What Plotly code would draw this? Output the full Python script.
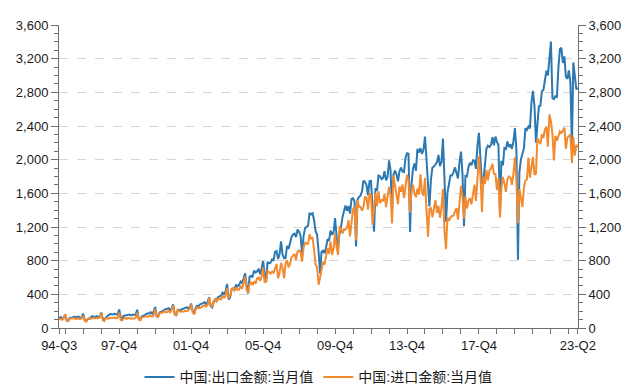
import pandas as pd
import plotly.graph_objects as go

# Monthly values, 亿美元, from 1994-08 to 2023-06
start_month = "1994-08-01"

export_values = [
    113, 129, 110, 123, 161,                                              # 1994 Aug-Dec
    88, 85, 120, 118, 127, 135, 128, 130, 135, 120, 130, 170,             # 1995
    95, 80, 105, 110, 125, 140, 135, 130, 140, 130, 138, 183,             # 1996
    113, 90, 120, 145, 155, 165, 165, 160, 170, 160, 165, 220,            # 1997
    130, 100, 145, 150, 150, 160, 160, 150, 160, 155, 160, 217,           # 1998
    115, 90, 135, 145, 150, 165, 175, 170, 189, 170, 195, 250,            # 1999
    145, 140, 185, 195, 200, 215, 222, 230, 235, 210, 235, 280,           # 2000
    170, 150, 205, 215, 215, 225, 230, 235, 246, 235, 245, 290,           # 2001
    200, 170, 235, 265, 260, 280, 285, 295, 305, 285, 310, 366,           # 2002
    260, 245, 305, 330, 335, 365, 375, 385, 420, 405, 435, 522,           # 2003
    340, 365, 455, 465, 460, 515, 495, 510, 553, 535, 590, 650,           # 2004
    510, 410, 610, 620, 610, 680, 660, 672, 703, 640, 710, 795,           # 2005
    650, 545, 785, 770, 775, 815, 800, 905, 915, 820, 880, 1029,          # 2006
    870, 830, 830, 975, 940, 1030, 1080, 1110, 1120, 1080, 1170, 1145,    # 2007
    1097, 873, 1089, 1187, 1205, 1215, 1367, 1349, 1364, 1283, 1150, 1111,  # 2008
    905, 649, 903, 919, 888, 954, 1054, 1037, 1159, 1108, 1137, 1307,     # 2009
    1095, 945, 1121, 1199, 1317, 1374, 1455, 1392, 1450, 1360, 1534, 1541,  # 2010
    1507, 968, 1522, 1557, 1572, 1619, 1752, 1733, 1697, 1575, 1745, 1747,  # 2011
    1499, 1144, 1659, 1633, 1812, 1802, 1769, 1780, 1863, 1755, 1794, 1992,  # 2012
    1873, 1393, 1821, 1871, 1827, 1743, 1860, 1906, 1857, 1854, 2022, 2077,  # 2013
    2071, 1141, 1701, 1886, 1955, 1868, 2128, 2085, 2137, 2069, 2117, 2275,  # 2014
    1999, 1691, 1445, 1763, 1907, 1919, 1951, 1969, 2056, 1924, 1972, 2252,  # 2015
    1774, 1262, 1605, 1727, 1812, 1813, 1848, 1908, 1844, 1776, 1966, 2095,  # 2016
    1827, 1208, 1806, 1802, 1910, 1964, 1934, 1992, 1985, 1890, 2174, 2318,  # 2017
    2003, 1715, 1740, 1999, 2127, 2167, 2150, 2173, 2267, 2171, 2274, 2212,  # 2018
    2175, 1353, 1987, 1931, 2138, 2128, 2215, 2149, 2184, 2128, 2217, 2375,  # 2019
    2112, 812, 1851, 2004, 2067, 2135, 2375, 2353, 2394, 2372, 2680, 2818,  # 2020
    2640, 2200, 2412, 2637, 2639, 2814, 2825, 2943, 3057, 3001, 3255, 3404,  # 2021
    2730, 2720, 2761, 2736, 3082, 3313, 3329, 3149, 3227, 2983, 2960, 3061,  # 2022
    2914, 2150, 3155, 2954, 2835, 2853,                                   # 2023 Jan-Jun
]

import_values = [
    104, 107, 98, 115, 164,                                               # 1994 Aug-Dec
    88, 82, 110, 112, 115, 118, 108, 110, 112, 105, 115, 145,             # 1995
    85, 80, 110, 115, 110, 115, 115, 115, 120, 115, 125, 183,             # 1996
    95, 85, 110, 120, 110, 120, 115, 120, 125, 115, 125, 184,             # 1997
    95, 90, 115, 120, 110, 120, 115, 110, 115, 110, 120, 182,             # 1998
    100, 95, 125, 130, 130, 140, 135, 140, 145, 135, 155, 227,            # 1999
    135, 130, 175, 180, 180, 201, 185, 190, 205, 185, 215, 270,           # 2000
    160, 150, 216, 200, 195, 200, 195, 205, 200, 210, 225, 280,           # 2001
    190, 160, 220, 245, 235, 240, 250, 255, 270, 255, 275, 357,           # 2002
    270, 245, 320, 345, 315, 345, 350, 340, 385, 360, 380, 473,           # 2003
    355, 385, 465, 475, 445, 475, 455, 455, 502, 465, 525, 610,           # 2004
    450, 420, 520, 540, 510, 555, 525, 590, 600, 560, 610, 720,           # 2005
    540, 560, 675, 665, 645, 670, 655, 715, 760, 590, 655, 775,           # 2006
    710, 590, 770, 805, 720, 760, 840, 860, 880, 810, 910, 920,           # 2007
    902, 788, 955, 1020, 1002, 1001, 1113, 1063, 1071, 930, 750, 722,     # 2008
    514, 601, 717, 787, 754, 872, 948, 880, 1030, 868, 947, 1123,         # 2009
    953, 869, 1194, 1183, 1122, 1174, 1168, 1192, 1281, 1089, 1305, 1410,  # 2010
    1442, 1041, 1521, 1443, 1442, 1395, 1437, 1555, 1552, 1405, 1600, 1582,  # 2011
    1226, 1458, 1606, 1449, 1625, 1484, 1518, 1513, 1588, 1437, 1598, 1676,  # 2012
    1581, 1242, 1812, 1689, 1622, 1472, 1681, 1618, 1704, 1543, 1684, 1820,  # 2013
    1753, 1371, 1624, 1701, 1596, 1554, 1656, 1587, 1827, 1615, 1572, 1781,  # 2014
    1395, 1085, 1417, 1424, 1316, 1454, 1520, 1368, 1452, 1310, 1431, 1651,  # 2015
    1143, 936, 1313, 1272, 1312, 1331, 1335, 1382, 1425, 1287, 1524, 1689,  # 2016
    1551, 1299, 1567, 1420, 1510, 1541, 1469, 1575, 1702, 1509, 1778, 2043,  # 2017
    1800, 1377, 1797, 1710, 1877, 1755, 1873, 1892, 1951, 1833, 1826, 1641,  # 2018
    1784, 1312, 1662, 1794, 1720, 1618, 1763, 1801, 1788, 1702, 1830, 2028,  # 2019
    1751, 1244, 1651, 1549, 1438, 1670, 1752, 1764, 2024, 1787, 1926, 2034,  # 2020
    1820, 1836, 2256, 2210, 2184, 2299, 2258, 2359, 2389, 2154, 2538, 2459,  # 2021
    2300, 1990, 2284, 2225, 2295, 2335, 2316, 2356, 2380, 2128, 2262, 2280,  # 2022
    2300, 1960, 2272, 2049, 2176, 2148,                                   # 2023 Jan-Jun
]

series_names = ["中国:出口金额:当月值", "中国:进口金额:当月值"]
series_colors = ["#2b78b2", "#f28b30"]

# x-axis tick positions (dates) and their labels
tick_dates = ["1994-08-01"] + [f"{y}-12-01" for y in range(1994, 2023)] + ["2023-06-01"]
labeled = {"1994-08-01": "94-Q3", "1997-12-01": "97-Q4", "2001-12-01": "01-Q4",
           "2005-12-01": "05-Q4", "2009-12-01": "09-Q4", "2013-12-01": "13-Q4",
           "2017-12-01": "17-Q4", "2023-06-01": "23-Q2"}
tick_texts = [labeled.get(d, "") for d in tick_dates]

y_ticks = list(range(0, 3601, 400))

n = min(len(export_values), len(import_values))
dates = pd.date_range(start_month, periods=n, freq="MS")

fig = go.Figure()
fig.add_trace(go.Scatter(x=dates, y=export_values[:n], mode="lines", name=series_names[0],
                         line=dict(color=series_colors[0], width=2)))
fig.add_trace(go.Scatter(x=dates, y=import_values[:n], mode="lines", name=series_names[1],
                         line=dict(color=series_colors[1], width=2), yaxis="y2"))

axis_col = "#6e6e6e"
font_fam = "Liberation Sans, Arial, Noto Sans CJK SC, sans-serif"
yax = dict(range=[0, 3600], tickvals=y_ticks, ticktext=[f"{v:,}" for v in y_ticks],
           ticks="outside", ticklen=7, tickcolor=axis_col, tickwidth=1,
           showline=True, linecolor=axis_col, linewidth=1, zeroline=False,
           minor=dict(dtick=100, tick0=0, ticks="outside", ticklen=4, tickcolor=axis_col, showgrid=False),
           tickfont=dict(size=13, color="#1a1a1a"), fixedrange=True, automargin=False)

# page body has an 8px default margin, so the figure is laid out 8px in from the window edge
fig.update_layout(
    width=632, height=381,
    margin=dict(l=51, r=62, t=17, b=61, autoexpand=False),
    paper_bgcolor="white", plot_bgcolor="white",
    font=dict(family=font_fam, size=13, color="#1a1a1a"),
    xaxis=dict(type="date", range=["1994-07-28", "2023-06-04"],
               tickmode="array", tickvals=tick_dates, ticktext=tick_texts,
               ticks="outside", ticklen=5, tickcolor=axis_col, showgrid=False,
               showline=True, linecolor=axis_col, linewidth=1, zeroline=False,
               tickfont=dict(size=13, color="#1a1a1a"), automargin=False),
    yaxis=dict(**yax, showgrid=True, gridcolor="#d6d6d6", griddash="dash", gridwidth=1),
    yaxis2=dict(**yax, overlaying="y", side="right", showgrid=False),
    legend=dict(orientation="h", x=0.5, xanchor="center", y=-0.163, yanchor="middle",
                font=dict(size=14), itemwidth=30, bgcolor="rgba(0,0,0,0)"),
    showlegend=True,
)

fig.write_html("out.html")
